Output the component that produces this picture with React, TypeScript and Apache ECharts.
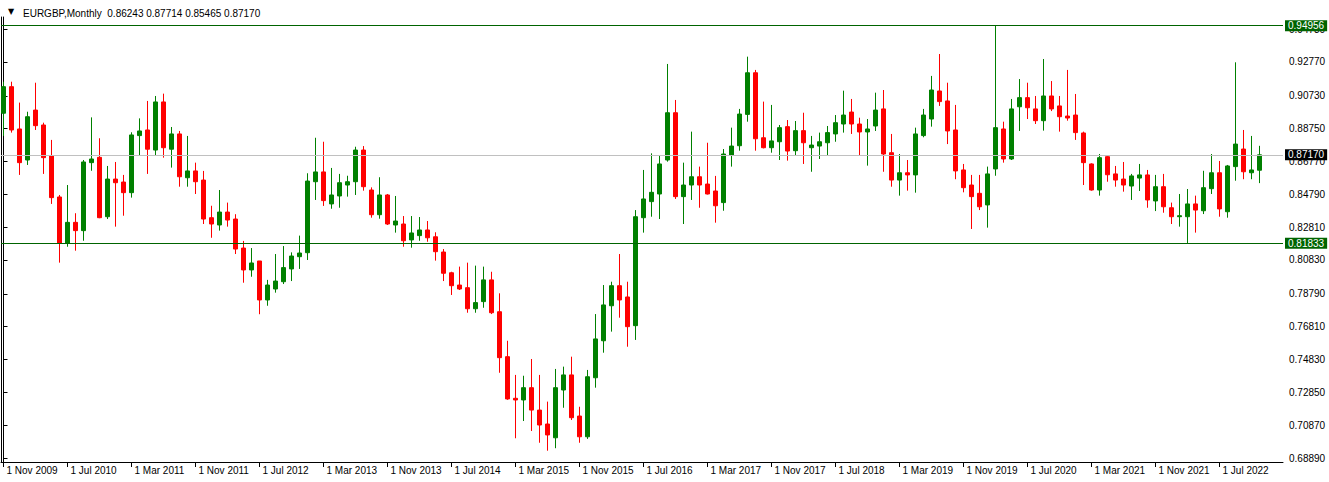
import React, { useEffect, useRef } from "react";
import * as echarts from "echarts";

const symbolName = "EURGBP";
const timeframe = "Monthly";
const startYear = 2009;
const startMonth = 10; // November (0-based)
const monthNames = ["Jan", "Feb", "Mar", "Apr", "May", "Jun", "Jul", "Aug", "Sep", "Oct", "Nov", "Dec"];

const open = [
  0.8968, 0.9128, 0.8873, 0.8686, 0.8987, 0.8897, 0.8710, 0.8463, 0.8184, 0.8310,
  0.8260, 0.8670, 0.8702, 0.8344, 0.8571, 0.8553, 0.8489, 0.8833, 0.8867, 0.8746,
  0.9036, 0.8751, 0.8843, 0.8579, 0.8620, 0.8565, 0.8338, 0.8294, 0.8372, 0.8330,
  0.8155, 0.8023, 0.8077, 0.7842, 0.7908, 0.7952, 0.8029, 0.8103, 0.8127, 0.8555,
  0.8614, 0.8421, 0.8469, 0.8535, 0.8555, 0.8746, 0.8505, 0.8356, 0.8475, 0.8294,
  0.8300, 0.8204, 0.8230, 0.8264, 0.8223, 0.8131, 0.8006, 0.7932, 0.7916, 0.7789,
  0.7832, 0.7963, 0.7771, 0.7500, 0.7249, 0.7239, 0.7313, 0.7178, 0.7094, 0.7011,
  0.7299, 0.7390, 0.7142, 0.7017, 0.7373, 0.7596, 0.7807, 0.7928, 0.7860, 0.7687,
  0.8338, 0.8435, 0.8481, 0.8686, 0.8971, 0.8465, 0.8535, 0.8585, 0.8541, 0.8499,
  0.8429, 0.8716, 0.8772, 0.8961, 0.9212, 0.8820, 0.8760, 0.8796, 0.8887, 0.8742,
  0.8863, 0.8760, 0.8770, 0.8790, 0.8843, 0.8903, 0.8975, 0.8903, 0.8855, 0.8891,
  0.8994, 0.8730, 0.8565, 0.8609, 0.8596, 0.8833, 0.8933, 0.9102, 0.9042, 0.8867,
  0.8626, 0.8535, 0.8485, 0.8415, 0.8632, 0.8873, 0.8692, 0.9007, 0.9062, 0.8994,
  0.8923, 0.9072, 0.9012, 0.8951, 0.8957, 0.8849, 0.8662, 0.8505, 0.8706, 0.8602,
  0.8571, 0.8529, 0.8577, 0.8596, 0.8439, 0.8525, 0.8398, 0.8344, 0.8344, 0.8421,
  0.8380, 0.8513, 0.8609, 0.8374, 0.8646, 0.8752, 0.8609, 0.86243,
];

const high = [
  0.9158, 0.9158, 0.9032, 0.8977, 0.9152, 0.8911, 0.8807, 0.8475, 0.8535, 0.8365,
  0.8686, 0.8943, 0.8817, 0.8650, 0.8674, 0.8596, 0.8853, 0.8937, 0.9042, 0.9072,
  0.9086, 0.8885, 0.8861, 0.8831, 0.8670, 0.8620, 0.8410, 0.8505, 0.8429, 0.8359,
  0.8198, 0.8155, 0.8077, 0.7963, 0.8119, 0.8167, 0.8129, 0.8230, 0.8606, 0.8820,
  0.8796, 0.8638, 0.8602, 0.8591, 0.8766, 0.8770, 0.8521, 0.8582, 0.8481, 0.8469,
  0.8348, 0.8348, 0.8342, 0.8318, 0.8250, 0.8149, 0.8012, 0.8043, 0.8067, 0.8049,
  0.8043, 0.8012, 0.7882, 0.7596, 0.7390, 0.7385, 0.7486, 0.7390, 0.7229, 0.7426,
  0.7440, 0.7500, 0.7198, 0.7420, 0.7757, 0.7932, 0.7952, 0.8119, 0.7952, 0.8384,
  0.8626, 0.8726, 0.8716, 0.9265, 0.9048, 0.8670, 0.8857, 0.8646, 0.8790, 0.8590,
  0.8752, 0.8881, 0.8994, 0.9309, 0.9229, 0.9038, 0.9018, 0.8897, 0.8927, 0.8921,
  0.8971, 0.8831, 0.8851, 0.8891, 0.8957, 0.9104, 0.9054, 0.8941, 0.8933, 0.9092,
  0.9108, 0.8843, 0.8722, 0.8686, 0.8881, 0.8994, 0.9193, 0.9325, 0.9152, 0.9018,
  0.8662, 0.8596, 0.8596, 0.8646, 0.94956, 0.8917, 0.9054, 0.9174, 0.9152, 0.9072,
  0.9295, 0.9162, 0.9072, 0.9229, 0.9084, 0.8857, 0.8666, 0.8722, 0.8710, 0.8650,
  0.8674, 0.8602, 0.8662, 0.8626, 0.8596, 0.8602, 0.8429, 0.8481, 0.8511, 0.8471,
  0.8621, 0.8722, 0.8680, 0.8656, 0.9275, 0.8867, 0.8831, 0.87714,
];

const low = [
  0.8831, 0.8851, 0.8596, 0.8656, 0.8867, 0.8602, 0.8421, 0.8067, 0.8163, 0.8139,
  0.8199, 0.8621, 0.8335, 0.8330, 0.8284, 0.8350, 0.8459, 0.8712, 0.8602, 0.8716,
  0.8700, 0.8640, 0.8525, 0.8525, 0.8481, 0.8300, 0.8217, 0.8260, 0.8284, 0.8119,
  0.7946, 0.7982, 0.7756, 0.7807, 0.7886, 0.7938, 0.7956, 0.8029, 0.8083, 0.8445,
  0.8409, 0.8392, 0.8398, 0.8465, 0.8475, 0.8501, 0.8338, 0.8332, 0.8294, 0.8248,
  0.8163, 0.8157, 0.8199, 0.8193, 0.8079, 0.7956, 0.7872, 0.7902, 0.7765, 0.7765,
  0.7795, 0.7757, 0.7403, 0.7240, 0.7008, 0.7112, 0.7052, 0.6981, 0.6933, 0.6948,
  0.7192, 0.7118, 0.6981, 0.7004, 0.7313, 0.7524, 0.7651, 0.7735, 0.7560, 0.7601,
  0.8248, 0.8344, 0.8330, 0.8676, 0.8451, 0.8300, 0.8445, 0.8398, 0.8478, 0.8308,
  0.8380, 0.8646, 0.8742, 0.8917, 0.8742, 0.8756, 0.8730, 0.8686, 0.8682, 0.8710,
  0.8662, 0.8615, 0.8692, 0.8716, 0.8796, 0.8851, 0.8843, 0.8716, 0.8652, 0.8861,
  0.8615, 0.8525, 0.8471, 0.8501, 0.8489, 0.8823, 0.8887, 0.9012, 0.8782, 0.8570,
  0.8491, 0.8270, 0.8384, 0.8278, 0.8591, 0.8670, 0.8686, 0.8861, 0.8933, 0.8903,
  0.8863, 0.8981, 0.8857, 0.8923, 0.8807, 0.8535, 0.8501, 0.8471, 0.8555, 0.8525,
  0.8495, 0.8445, 0.8499, 0.8398, 0.8378, 0.8368, 0.8300, 0.8284, 0.81833, 0.8248,
  0.8360, 0.8481, 0.8344, 0.8338, 0.8561, 0.8570, 0.8570, 0.85465,
];

const close = [
  0.9128, 0.8867, 0.8670, 0.8947, 0.8893, 0.8700, 0.8459, 0.8184, 0.8310, 0.8260,
  0.8674, 0.8692, 0.8338, 0.8571, 0.8549, 0.8489, 0.8837, 0.8861, 0.8751, 0.9036,
  0.8760, 0.8843, 0.8585, 0.8620, 0.8555, 0.8330, 0.8300, 0.8372, 0.8324, 0.8149,
  0.8023, 0.8065, 0.7842, 0.7932, 0.7956, 0.8037, 0.8107, 0.8125, 0.8559, 0.8614,
  0.8441, 0.8475, 0.8549, 0.8555, 0.8746, 0.8525, 0.8356, 0.8475, 0.8300, 0.8318,
  0.8199, 0.8246, 0.8264, 0.8217, 0.8133, 0.8003, 0.7928, 0.7908, 0.7789, 0.7826,
  0.7963, 0.7765, 0.7494, 0.7245, 0.7239, 0.7313, 0.7178, 0.7088, 0.7028, 0.7313,
  0.7390, 0.7132, 0.7017, 0.7379, 0.7607, 0.7812, 0.7928, 0.7842, 0.7681, 0.8344,
  0.8451, 0.8491, 0.8662, 0.8971, 0.8465, 0.8535, 0.8585, 0.8535, 0.8481, 0.8410,
  0.8722, 0.8770, 0.8963, 0.9212, 0.8814, 0.8760, 0.8801, 0.8881, 0.8740, 0.8863,
  0.8790, 0.8776, 0.8796, 0.8851, 0.8911, 0.8957, 0.8903, 0.8855, 0.8873, 0.8987,
  0.8722, 0.8565, 0.8609, 0.8596, 0.8843, 0.8957, 0.9108, 0.9038, 0.8861, 0.8620,
  0.8519, 0.8465, 0.8404, 0.8602, 0.8881, 0.8692, 0.8994, 0.9062, 0.9001, 0.8923,
  0.9072, 0.8994, 0.8947, 0.8939, 0.8851, 0.8670, 0.8505, 0.8700, 0.8597, 0.8565,
  0.8535, 0.8590, 0.8596, 0.8445, 0.8525, 0.8404, 0.8344, 0.8350, 0.8421, 0.8384,
  0.8519, 0.8609, 0.8391, 0.8650, 0.8782, 0.8615, 0.8626, 0.87170,
];

const yTickValues = [0.9473, 0.9277, 0.9073, 0.8875, 0.8677, 0.8479, 0.8281, 0.8083, 0.7879, 0.7681, 0.7483, 0.7285, 0.7087, 0.6889];
const yMin = 0.68649;
const yMax = 0.95482;
const xTickEvery = 8;
const levelLines = [0.94956, 0.81833];
const bidPrice = 0.8717;

const BULL = "#008000";
const BEAR = "#ff0000";
const LEVEL = "#006400";
const FONT = "Liberation Sans";

function monthLabel(i: number): string {
  const m = startMonth + i;
  return `1 ${monthNames[m % 12]} ${startYear + Math.floor(m / 12)}`;
}

export default function App() {
  const ref = useRef<HTMLDivElement>(null);

  useEffect(() => {
    if (!ref.current) return;
    const chart = echarts.init(ref.current, undefined, { renderer: "svg" });
    const n = open.length;
    const seriesData = open.map((o, i) => [i, o, close[i], low[i], high[i]]);
    const xTicks: number[] = [];
    for (let i = 0; i < n; i += xTickEvery) xTicks.push(i);
    const last = n - 1;
    const header = `${symbolName},${timeframe}  ${open[last].toFixed(5)} ${high[last].toFixed(5)} ${low[last].toFixed(5)} ${close[last].toFixed(5)}`;

    const tag = (value: number, bg: string) => ({
      show: true,
      position: "end" as const,
      distance: 2,
      formatter: () => value.toFixed(5),
      color: "#ffffff",
      backgroundColor: bg,
      padding: [1, 3, 0, 3],
      fontSize: 10,
      fontFamily: FONT,
    });

    chart.setOption({
      animation: false,
      backgroundColor: "#ffffff",
      title: [
        { text: "▼", left: 3, top: 2, textStyle: { fontSize: 8, color: "#000", fontWeight: "normal", fontFamily: "DejaVu Sans" } },
        { text: header, left: 18, top: 3, textStyle: { fontSize: 10, color: "#000", fontWeight: "normal", fontFamily: FONT } },
      ],
      grid: { left: 1, right: 46, top: 17, bottom: 20, containLabel: false },
      xAxis: {
        type: "value",
        min: -0.3125,
        max: 159.9375,
        splitLine: { show: false },
        axisLine: { show: true, onZero: false, lineStyle: { color: "#000", width: 1 } },
        axisTick: { show: true, customValues: xTicks, length: 5, lineStyle: { color: "#000" } },
        axisLabel: {
          customValues: xTicks,
          formatter: (v: number) => monthLabel(Math.round(v)),
          align: "left",
          padding: [0, 0, 0, 3],
          margin: 3,
          color: "#000",
          fontSize: 10,
          fontFamily: FONT,
        },
      },
      yAxis: [
        {
          type: "value",
          position: "right",
          min: yMin,
          max: yMax,
          splitLine: { show: false },
          axisLine: { show: true, lineStyle: { color: "#000", width: 1 } },
          axisTick: { show: true, customValues: yTickValues, length: 4, lineStyle: { color: "#000" } },
          axisLabel: {
            customValues: yTickValues,
            formatter: (v: number) => v.toFixed(5),
            margin: 6,
            color: "#000",
            fontSize: 10,
            fontFamily: FONT,
          },
        },
        {
          type: "value",
          position: "left",
          min: yMin,
          max: yMax,
          splitLine: { show: false },
          axisLine: { show: true, lineStyle: { color: "#000", width: 1 } },
          axisTick: { show: false },
          axisLabel: { show: false },
        },
      ],
      series: [
        {
          type: "candlestick",
          yAxisIndex: 0,
          barWidth: 4,
          encode: { x: 0, y: [1, 2, 3, 4] },
          data: seriesData,
          itemStyle: {
            color: BULL,
            color0: BEAR,
            borderColor: BULL,
            borderColor0: BEAR,
            borderWidth: 1,
          },
          markLine: {
            silent: true,
            symbol: ["none", "none"],
            precision: 5,
            animation: false,
            z: 10,
            data: [
              { yAxis: bidPrice, lineStyle: { color: "#c0c0c0", width: 1, type: "solid" }, label: tag(bidPrice, "#000000") },
              ...levelLines.map((v) => ({
                yAxis: v,
                lineStyle: { color: LEVEL, width: 1, type: "solid" },
                label: tag(v, LEVEL),
              })),
            ],
          },
        },
      ],
    });

    return () => chart.dispose();
  }, []);

  return (
    <div
      ref={ref}
      style={{ position: "fixed", left: 0, top: 0, width: 1329, height: 482, background: "#fff" }}
    />
  );
}
